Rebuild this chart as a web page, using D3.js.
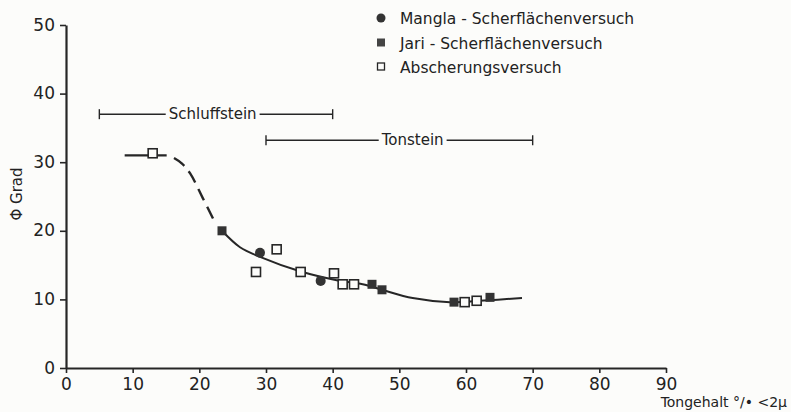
<!DOCTYPE html>
<html>
<head>
<meta charset="utf-8">
<script src="https://cdn.jsdelivr.net/npm/d3@7"></script>
<style>
  body { margin: 0; background: #fcfcfa; }
  svg { display: block; }
  text { font-family: "DejaVu Sans", sans-serif; fill: #222; }
</style>
</head>
<body>
<div id="app"></div>
<script>
// values
let xTicks = [0, 10, 20, 30, 40, 50, 60, 70, 80, 90]
let yTicks = [0, 10, 20, 30, 40, 50]

let mangla = [[29.1, 16.8], [38.2, 12.7]]
let jari = [[23.4, 20.0], [45.9, 12.2], [47.4, 11.4], [58.2, 9.6], [63.6, 10.3]]
let abscherung = [[13.0, 31.3], [28.5, 14.0], [31.6, 17.3], [35.2, 14.0], [40.2, 13.8],
    [41.5, 12.2], [43.2, 12.2], [59.8, 9.6], [61.6, 9.8]]

// fitted curve, read point by point
let plateau = [[8.8, 31.0], [15.1, 31.0]]
let dashed = [[16.2, 30.6], [17.4, 29.8], [18.6, 28.4], [20.5, 24.8], [22.3, 21.3]]
let solid = [[23.4, 20.0], [26.1, 17.6], [29.1, 16.2], [35.1, 14.1], [40.6, 12.8],
    [44.5, 12.2], [47.4, 11.4], [52.0, 10.2], [57.6, 9.6], [62.0, 9.8], [68.4, 10.2]]

// ranges: [label, from, to, level, label centre]
let ranges = [["Schluffstein", 5, 40, 37, 22], ["Tonstein", 30, 70, 33.2, 52]]

let legend = ["Mangla - Scherflächenversuch", "Jari - Scherflächenversuch", "Abscherungsversuch"]

let width = 791, height = 412
let ink = "#262626"
let svg = d3.select("#app").append("svg")
    .attr("width", width)
    .attr("height", height)

let x = d3.scaleLinear().domain([0, 90]).range([66, 666])
let y = d3.scaleLinear().domain([0, 50]).range([368, 25])

// axes
let xAxis = svg.append("g")
    .attr("transform", `translate(0,${y(0)})`)
    .call(d3.axisBottom(x).tickValues(xTicks).tickSize(5).tickSizeOuter(0).tickPadding(5))
let yAxis = svg.append("g")
    .attr("transform", `translate(${x(0)},0)`)
    .call(d3.axisLeft(y).tickValues(yTicks).tickSize(6).tickSizeOuter(0).tickPadding(5))

for (let g of [xAxis, yAxis]) {
    g.select(".domain").attr("stroke", ink).attr("stroke-width", 2.2)
    g.selectAll(".tick line").attr("stroke", ink).attr("stroke-width", 1.6)
    g.selectAll(".tick text").attr("font-size", 17).attr("fill", ink)
        .attr("font-family", "DejaVu Sans")
}
yAxis.selectAll(".tick text").attr("dy", "0.3em")

// axis titles
svg.append("text")
    .attr("transform", "translate(22,194) rotate(-90)")
    .attr("text-anchor", "middle")
    .attr("font-size", 15)
    .text("\u03A6  Grad")

svg.append("text")
    .attr("x", 787).attr("y", 407)
    .attr("text-anchor", "end")
    .attr("font-size", 14)
    .text("Tongehalt  °/\u2022 <2\u03BC")

// ranges
let rg = svg.append("g")
ranges.forEach(r => {
    let yy = y(r[3])
    let lbl = rg.append("text")
        .attr("x", x(r[4])).attr("y", yy + 5)
        .attr("text-anchor", "middle")
        .attr("font-size", 15)
        .text(r[0])
    let w = lbl.node().getComputedTextLength()
    let gap = w / 2 + 3
    rg.append("line").attr("x1", x(r[1])).attr("x2", x(r[4]) - gap)
        .attr("y1", yy).attr("y2", yy)
    rg.append("line").attr("x1", x(r[4]) + gap).attr("x2", x(r[2]))
        .attr("y1", yy).attr("y2", yy)
    rg.append("line").attr("x1", x(r[1])).attr("x2", x(r[1]))
        .attr("y1", yy - 5).attr("y2", yy + 5)
    rg.append("line").attr("x1", x(r[2])).attr("x2", x(r[2]))
        .attr("y1", yy - 5).attr("y2", yy + 5)
})
rg.selectAll("line").attr("stroke", ink).attr("stroke-width", 1.4)

// curve
let line = d3.line().x(d => x(d[0])).y(d => y(d[1]))
svg.append("path").datum(plateau).attr("d", line)
    .attr("fill", "none").attr("stroke", ink).attr("stroke-width", 2.4)
svg.append("path").datum(dashed).attr("d", line.curve(d3.curveCatmullRom))
    .attr("fill", "none").attr("stroke", ink).attr("stroke-width", 2.4)
    .attr("stroke-dasharray", "13,7")
svg.append("path").datum(solid).attr("d", line.curve(d3.curveCatmullRom))
    .attr("fill", "none").attr("stroke", ink).attr("stroke-width", 2)

// markers
let s = 9
svg.append("g").selectAll("rect").data(abscherung).enter().append("rect")
    .attr("x", d => x(d[0]) - s / 2).attr("y", d => y(d[1]) - s / 2)
    .attr("width", s).attr("height", s)
    .attr("fill", "#fcfcfa").attr("stroke", ink).attr("stroke-width", 1.6)
svg.append("g").selectAll("rect").data(jari).enter().append("rect")
    .attr("x", d => x(d[0]) - s / 2).attr("y", d => y(d[1]) - s / 2)
    .attr("width", s).attr("height", s)
    .attr("fill", "#333")
svg.append("g").selectAll("circle").data(mangla).enter().append("circle")
    .attr("cx", d => x(d[0])).attr("cy", d => y(d[1])).attr("r", 5)
    .attr("fill", "#333")

// legend
let lg = svg.append("g").attr("transform", "translate(381,18)")
lg.selectAll("text").data(legend).enter().append("text")
    .attr("x", 19).attr("y", (d, i) => i * 24.5 + 6)
    .attr("font-size", 15.5)
    .text(d => d)
lg.append("circle").attr("cx", 0).attr("cy", 0).attr("r", 4.5).attr("fill", "#333")
lg.append("rect").attr("x", -4).attr("y", 20.5).attr("width", 8).attr("height", 8).attr("fill", "#444")
lg.append("rect").attr("x", -3.5).attr("y", 45).attr("width", 7).attr("height", 7)
    .attr("fill", "none").attr("stroke", ink).attr("stroke-width", 1.3)
</script>
</body>
</html>
